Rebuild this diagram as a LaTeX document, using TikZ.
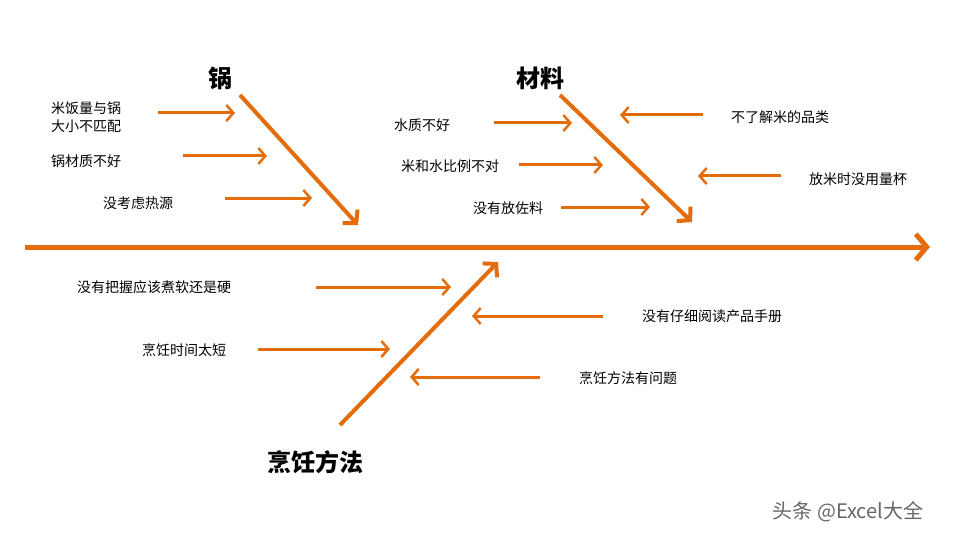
\documentclass[tikz,border=0pt]{standalone}
\usepackage{fontspec}
\setmainfont{Noto Sans CJK SC}
\usetikzlibrary{arrows.meta}
\definecolor{org}{HTML}{E46C0A}
\tikzset{
 spine/.style={draw=org,line width=5pt,-{Straight Barb[length=11pt,width=26pt,line width=5pt]}},
 bone/.style={draw=org,line width=4pt,-{Straight Barb[length=9pt,width=20pt,line width=4pt]}},
 small/.style={draw=org,line width=3pt,-{Straight Barb[length=7pt,width=16pt,line width=2.5pt]}},
 lbl/.style={font=\fontsize{14}{18}\selectfont,align=left,text=black},
 head/.style={font=\fontsize{24}{28}\selectfont\bfseries,text=black}
}
\newcommand{\causeitem}[5]{\node[lbl] (#1) at #2 {#3};
 \coordinate (#1p) at #4; \coordinate (#1q) at #5; \draw[small] (#1p) -- (#1q);}
\begin{document}
\begin{tikzpicture}[x=1pt,y=-1pt]
\useasboundingbox (0,0) rectangle (960,540);
\coordinate (s0) at (25,247); \coordinate (s1) at (930,247);
\draw[spine] (s0) -- (s1);
\coordinate (a0) at (240,95); \coordinate (a1) at (358,225);
\coordinate (b0) at (560,95); \coordinate (b1) at (692,222);
\coordinate (c0) at (340,425); \coordinate (c1) at (498,262);
\draw[bone] (a0) -- (a1);
\draw[bone] (b0) -- (b1);
\draw[bone] (c0) -- (c1);
\node[head] (ha) at (220,78) {锅};
\node[head] (hb) at (540,78) {材料};
\node[head] (hc) at (315,462) {烹饪方法};
\causeitem{t1}{(86,117)}{米饭量与锅\\大小不匹配}{(158,113)}{(235,113)}
\causeitem{t2}{(86,161)}{锅材质不好}{(183,156)}{(267,156)}
\causeitem{t3}{(138,203)}{没考虑热源}{(225,198)}{(312,198)}
\causeitem{t4}{(422,125)}{水质不好}{(494,123)}{(572,123)}
\causeitem{t5}{(450,166)}{米和水比例不对}{(519,165)}{(603,165)}
\causeitem{t6}{(508,208)}{没有放佐料}{(561,207)}{(650,207)}
\causeitem{t7}{(780,117)}{不了解米的品类}{(703,115)}{(620,115)}
\causeitem{t8}{(858,179)}{放米时没用量杯}{(781,176)}{(698,176)}
\causeitem{t9}{(154,287)}{没有把握应该煮软还是硬}{(316,287)}{(451,287)}
\causeitem{t10}{(712,316)}{没有仔细阅读产品手册}{(603,316)}{(472,316)}
\causeitem{t11}{(184,350)}{烹饪时间太短}{(258,349)}{(390,349)}
\causeitem{t12}{(628,378)}{烹饪方法有问题}{(540,377)}{(410,377)}
\node[font=\fontsize{20}{24}\selectfont,text=gray!80!black] (wm) at (848,512) {头条 @Excel大全};
\end{tikzpicture}
\end{document}
